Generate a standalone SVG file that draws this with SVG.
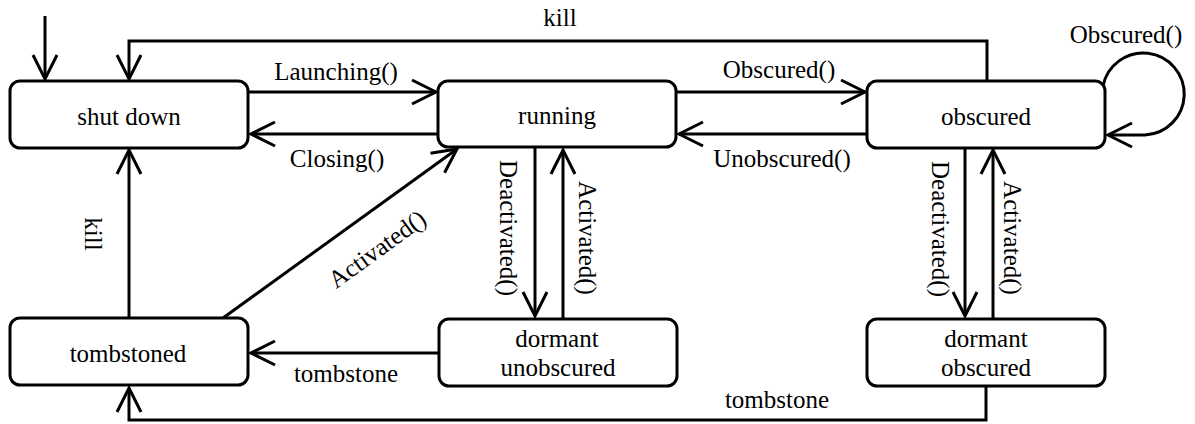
<svg xmlns="http://www.w3.org/2000/svg" width="1195" height="424" viewBox="0 0 1195 424">
  <style>
    .box { fill: #fff; stroke: #000; stroke-width: 3; }
    .edge { fill: none; stroke: #000; stroke-width: 3; marker-end: url(#open); }
    text { font-family: 'Liberation Serif', Tinos, 'Times New Roman', 'DejaVu Serif', serif; font-size: 25px; fill: #000; text-anchor: middle; }
    .v { dominant-baseline: central; }
  </style>
  <defs>
    <marker id="open" markerUnits="userSpaceOnUse" markerWidth="40" markerHeight="40" viewBox="-30 -20 40 40" refX="0" refY="0" orient="auto">
      <path d="M-24,-12 L0,0 L-24,12" fill="none" stroke="#000" stroke-width="3"/>
    </marker>
  </defs>

  <rect width="1195" height="424" fill="#fff"/>

  <g id="connectors">
    <!-- initial state -->
    <path class="edge" d="M45,16 V79"/>
    <!-- kill from obscured to shut down -->
    <path class="edge" d="M987,81 V41 H129 V79"/>
    <text x="560" y="26">kill</text>
    <!-- Launching / Closing -->
    <path class="edge" d="M248,92 H436"/>
    <text x="336" y="80">Launching()</text>
    <path class="edge" d="M438,134 H251"/>
    <text x="337" y="167">Closing()</text>
    <!-- Obscured / Unobscured -->
    <path class="edge" d="M676,92 H865"/>
    <text x="779" y="78">Obscured()</text>
    <path class="edge" d="M867,134 H679"/>
    <text x="782" y="167">Unobscured()</text>
    <!-- self loop on obscured -->
    <path class="edge" d="M1103,86 A41,41 0 1 1 1145,135 L1108,135"/>
    <text x="1126" y="43">Obscured()</text>
    <!-- running <-> dormant unobscured -->
    <path class="edge" d="M535,147 V316"/>
    <text class="v" transform="translate(508,228) rotate(90)">Deactivated()</text>
    <path class="edge" d="M563,319 V150"/>
    <text class="v" transform="translate(587,238) rotate(90)">Activated()</text>
    <!-- obscured <-> dormant obscured -->
    <path class="edge" d="M965,148 V316"/>
    <text class="v" transform="translate(940,229) rotate(90)">Deactivated()</text>
    <path class="edge" d="M993,319 V150"/>
    <text class="v" transform="translate(1012,238) rotate(90)">Activated()</text>
    <!-- tombstoned -> shut down -->
    <path class="edge" d="M129,318 V150"/>
    <text class="v" transform="translate(93,234) rotate(90)">kill</text>
    <!-- tombstoned -> running -->
    <path class="edge" d="M223,318 L457,149"/>
    <text class="v" transform="translate(377,249) rotate(-36)">Activated()</text>
    <!-- dormant unobscured -> tombstoned -->
    <path class="edge" d="M439,353 H251"/>
    <text x="346" y="382">tombstone</text>
    <!-- dormant obscured -> tombstoned -->
    <path class="edge" d="M986,386 V420 H129 V388"/>
    <text x="777" y="408">tombstone</text>
  </g>

  <g id="shut-down">
    <rect class="box" x="10" y="81" width="238" height="67" rx="10"/>
    <text x="129" y="125">shut down</text>
  </g>
  <g id="running">
    <rect class="box" x="438" y="81" width="238" height="66" rx="10"/>
    <text x="557" y="124">running</text>
  </g>
  <g id="obscured">
    <rect class="box" x="867" y="81" width="238" height="67" rx="10"/>
    <text x="986" y="125">obscured</text>
  </g>
  <g id="tombstoned">
    <rect class="box" x="10" y="318" width="238" height="67" rx="10"/>
    <text x="128" y="362">tombstoned</text>
  </g>
  <g id="dormant-unobscured">
    <rect class="box" x="439" y="319" width="238" height="67" rx="10"/>
    <text x="557" y="347">dormant</text>
    <text x="558" y="376">unobscured</text>
  </g>
  <g id="dormant-obscured">
    <rect class="box" x="867" y="319" width="238" height="67" rx="10"/>
    <text x="986" y="347">dormant</text>
    <text x="986" y="376">obscured</text>
  </g>
</svg>
